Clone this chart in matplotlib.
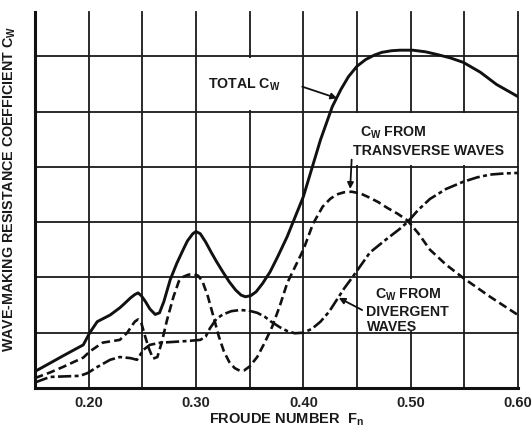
import matplotlib
matplotlib.use("Agg")
import matplotlib.pyplot as plt
from matplotlib.patches import Rectangle

plt.rcParams['font.family'] = ['Liberation Sans', 'DejaVu Sans']
plt.rcParams['mathtext.fontset'] = 'custom'
plt.rcParams['mathtext.rm'] = 'Liberation Sans'
plt.rcParams['mathtext.bf'] = 'Liberation Sans:bold'

# Froude number ticks
x_ticks = [0.20, 0.30, 0.40, 0.50, 0.60]
x_tick_labels = ["0.20", "0.30", "0.40", "0.50", "0.60"]

# Total wave-making resistance coefficient
total_fn = [0.150, 0.164, 0.176, 0.195, 0.201, 0.208, 0.220, 0.229, 0.233, 0.239,
            0.243, 0.246, 0.249, 0.253, 0.257, 0.262, 0.266, 0.270, 0.276, 0.282,
            0.288, 0.292, 0.297, 0.300, 0.304, 0.309, 0.314, 0.319, 0.325, 0.331,
            0.337, 0.342, 0.346, 0.351, 0.356, 0.362, 0.369, 0.376, 0.385, 0.400,
            0.416, 0.427, 0.435, 0.442, 0.450, 0.458, 0.466, 0.473, 0.482, 0.490,
            0.502, 0.514, 0.525, 0.537, 0.549, 0.565, 0.580, 0.600]
total_cw = [0.30, 0.45, 0.58, 0.78, 1.00, 1.20, 1.32, 1.45, 1.52, 1.63,
            1.69, 1.72, 1.67, 1.56, 1.43, 1.33, 1.36, 1.56, 1.96, 2.25,
            2.50, 2.66, 2.79, 2.83, 2.79, 2.64, 2.46, 2.29, 2.10, 1.92,
            1.77, 1.68, 1.65, 1.67, 1.74, 1.89, 2.10, 2.37, 2.74, 3.46,
            4.49, 5.09, 5.40, 5.63, 5.82, 5.94, 6.02, 6.07, 6.10, 6.11,
            6.11, 6.08, 6.03, 5.97, 5.89, 5.71, 5.49, 5.27]

# Component from transverse waves
trans_fn = [0.150, 0.164, 0.176, 0.195, 0.201, 0.213, 0.229, 0.236, 0.240, 0.243,
            0.246, 0.249, 0.252, 0.256, 0.260, 0.264, 0.268, 0.273, 0.279, 0.284,
            0.288, 0.293, 0.298, 0.302, 0.306, 0.311, 0.316, 0.321, 0.326, 0.331,
            0.336, 0.341, 0.345, 0.350, 0.357, 0.364, 0.371, 0.378, 0.385, 0.393,
            0.400, 0.409, 0.418, 0.425, 0.431, 0.438, 0.445, 0.453, 0.462, 0.470,
            0.478, 0.488, 0.497, 0.507, 0.518, 0.533, 0.549, 0.574, 0.600]
trans_cw = [0.18, 0.28, 0.38, 0.55, 0.66, 0.82, 0.87, 1.00, 1.12, 1.20,
            1.24, 1.18, 0.97, 0.72, 0.53, 0.56, 0.82, 1.23, 1.65, 1.93,
            2.01, 2.05, 2.06, 2.03, 1.93, 1.66, 1.31, 0.95, 0.66, 0.47,
            0.36, 0.31, 0.32, 0.39, 0.56, 0.82, 1.11, 1.48, 1.90, 2.22,
            2.50, 2.97, 3.28, 3.42, 3.50, 3.54, 3.55, 3.52, 3.44, 3.36,
            3.26, 3.15, 3.03, 2.80, 2.50, 2.23, 1.99, 1.65, 1.32]

# Component from divergent waves
div_fn = [0.150, 0.164, 0.192, 0.199, 0.208, 0.220, 0.229, 0.239, 0.245, 0.251,
          0.257, 0.267, 0.276, 0.292, 0.304, 0.309, 0.313, 0.319, 0.325, 0.333,
          0.341, 0.349, 0.357, 0.364, 0.370, 0.378, 0.385, 0.392, 0.400, 0.408,
          0.416, 0.424, 0.431, 0.438, 0.446, 0.454, 0.462, 0.476, 0.490, 0.497,
          0.507, 0.518, 0.533, 0.549, 0.562, 0.574, 0.587, 0.600]
div_cw = [0.10, 0.20, 0.22, 0.27, 0.38, 0.51, 0.56, 0.54, 0.51, 0.69,
          0.78, 0.82, 0.83, 0.85, 0.87, 0.93, 1.08, 1.25, 1.33, 1.39,
          1.41, 1.40, 1.36, 1.29, 1.20, 1.10, 1.03, 0.99, 1.00, 1.07,
          1.20, 1.38, 1.59, 1.80, 2.01, 2.23, 2.45, 2.67, 2.88, 3.00,
          3.22, 3.42, 3.60, 3.73, 3.81, 3.86, 3.88, 3.89]

fig = plt.figure(figsize=(5.32, 4.30), dpi=100)
ax = fig.add_axes([0.0658, 0.0977, 0.9079, 0.8743])
ax.set_xlim(0.15, 0.60)
ax.set_ylim(0, 6.8)

# grid drawn by hand so the edge lines are not clipped
grid_kw = dict(color='#1a1a1a', lw=1.3, zorder=1, clip_on=False)
for gx in [0.20, 0.25, 0.30, 0.35, 0.40, 0.45, 0.50, 0.55, 0.60]:
    ax.plot([gx, gx], [0, 6.8], **grid_kw)
for gy in [1, 2, 3, 4, 5, 6]:
    ax.plot([0.15, 0.60], [gy, gy], **grid_kw)

# white label panels over the grid
for (x0, y0, w, h) in [(0.303, 5.03, 0.094, 0.94),
                       (0.430, 4.03, 0.167, 0.94),
                       (0.456, 1.03, 0.089, 0.94)]:
    ax.add_patch(Rectangle((x0, y0), w, h, facecolor='white', edgecolor='none', zorder=2))

for s in ['top', 'right']:
    ax.spines[s].set_visible(False)
for s in ['left', 'bottom']:
    ax.spines[s].set_linewidth(2.2)
    ax.spines[s].set_color('#111111')

ax.plot(total_fn, total_cw, color='#111111', lw=2.1, zorder=4,
        solid_joinstyle='round')
ax.plot(trans_fn, trans_cw, color='#111111', lw=1.9, ls=(0, (3.2, 1.6)), zorder=4)
ax.plot(div_fn, div_cw, color='#111111', lw=1.9, ls=(0, (5, 1.3, 1.5, 1.3)), zorder=4)

ax.set_xticks(x_ticks)
ax.set_xticklabels(x_tick_labels, fontsize=10.5, fontweight='bold', color='#222222')
ax.set_yticks([])
ax.tick_params(axis='x', length=0, pad=6)

txt = dict(fontsize=10.2, fontweight='bold', color='#1a1a1a', zorder=5)
ax.text(0.311, 5.49, r"TOTAL C$_\mathbf{W}$", ha='left', va='center', **txt)
ax.text(0.453, 4.62, r"C$_\mathbf{W}$ FROM", ha='left', va='center', **txt)
ax.text(0.446, 4.28, "TRANSVERSE WAVES", ha='left', va='center', **txt)
ax.text(0.467, 1.68, r"C$_\mathbf{W}$ FROM", ha='left', va='center', **txt)
ax.text(0.458, 1.38, "DIVERGENT", ha='left', va='center', **txt)
ax.text(0.459, 1.10, "WAVES", ha='left', va='center', **txt)

arrow = dict(arrowstyle='-|>', color='#111111', lw=1.3, mutation_scale=9,
             shrinkA=0, shrinkB=0)
ax.annotate("", xy=(0.4315, 5.24), xytext=(0.399, 5.45), arrowprops=arrow, zorder=5)
ax.annotate("", xy=(0.4436, 3.60), xytext=(0.445, 4.13), arrowprops=arrow, zorder=5)
ax.annotate("", xy=(0.4330, 1.63), xytext=(0.4548, 1.41), arrowprops=arrow, zorder=5)

ax.set_xlabel(r"FROUDE NUMBER  F$_\mathbf{n}$", fontsize=10.5, fontweight='bold',
              color='#1a1a1a')
ax.xaxis.set_label_coords(0.52, -0.062)
ax.set_ylabel(r"WAVE-MAKING RESISTANCE COEFFICIENT C$_\mathbf{W}$", fontsize=10.3,
              fontweight='bold', color='#1a1a1a')
ax.yaxis.set_label_coords(-0.036, 0.53)

fig.savefig("out.png", dpi=100, facecolor='white')
